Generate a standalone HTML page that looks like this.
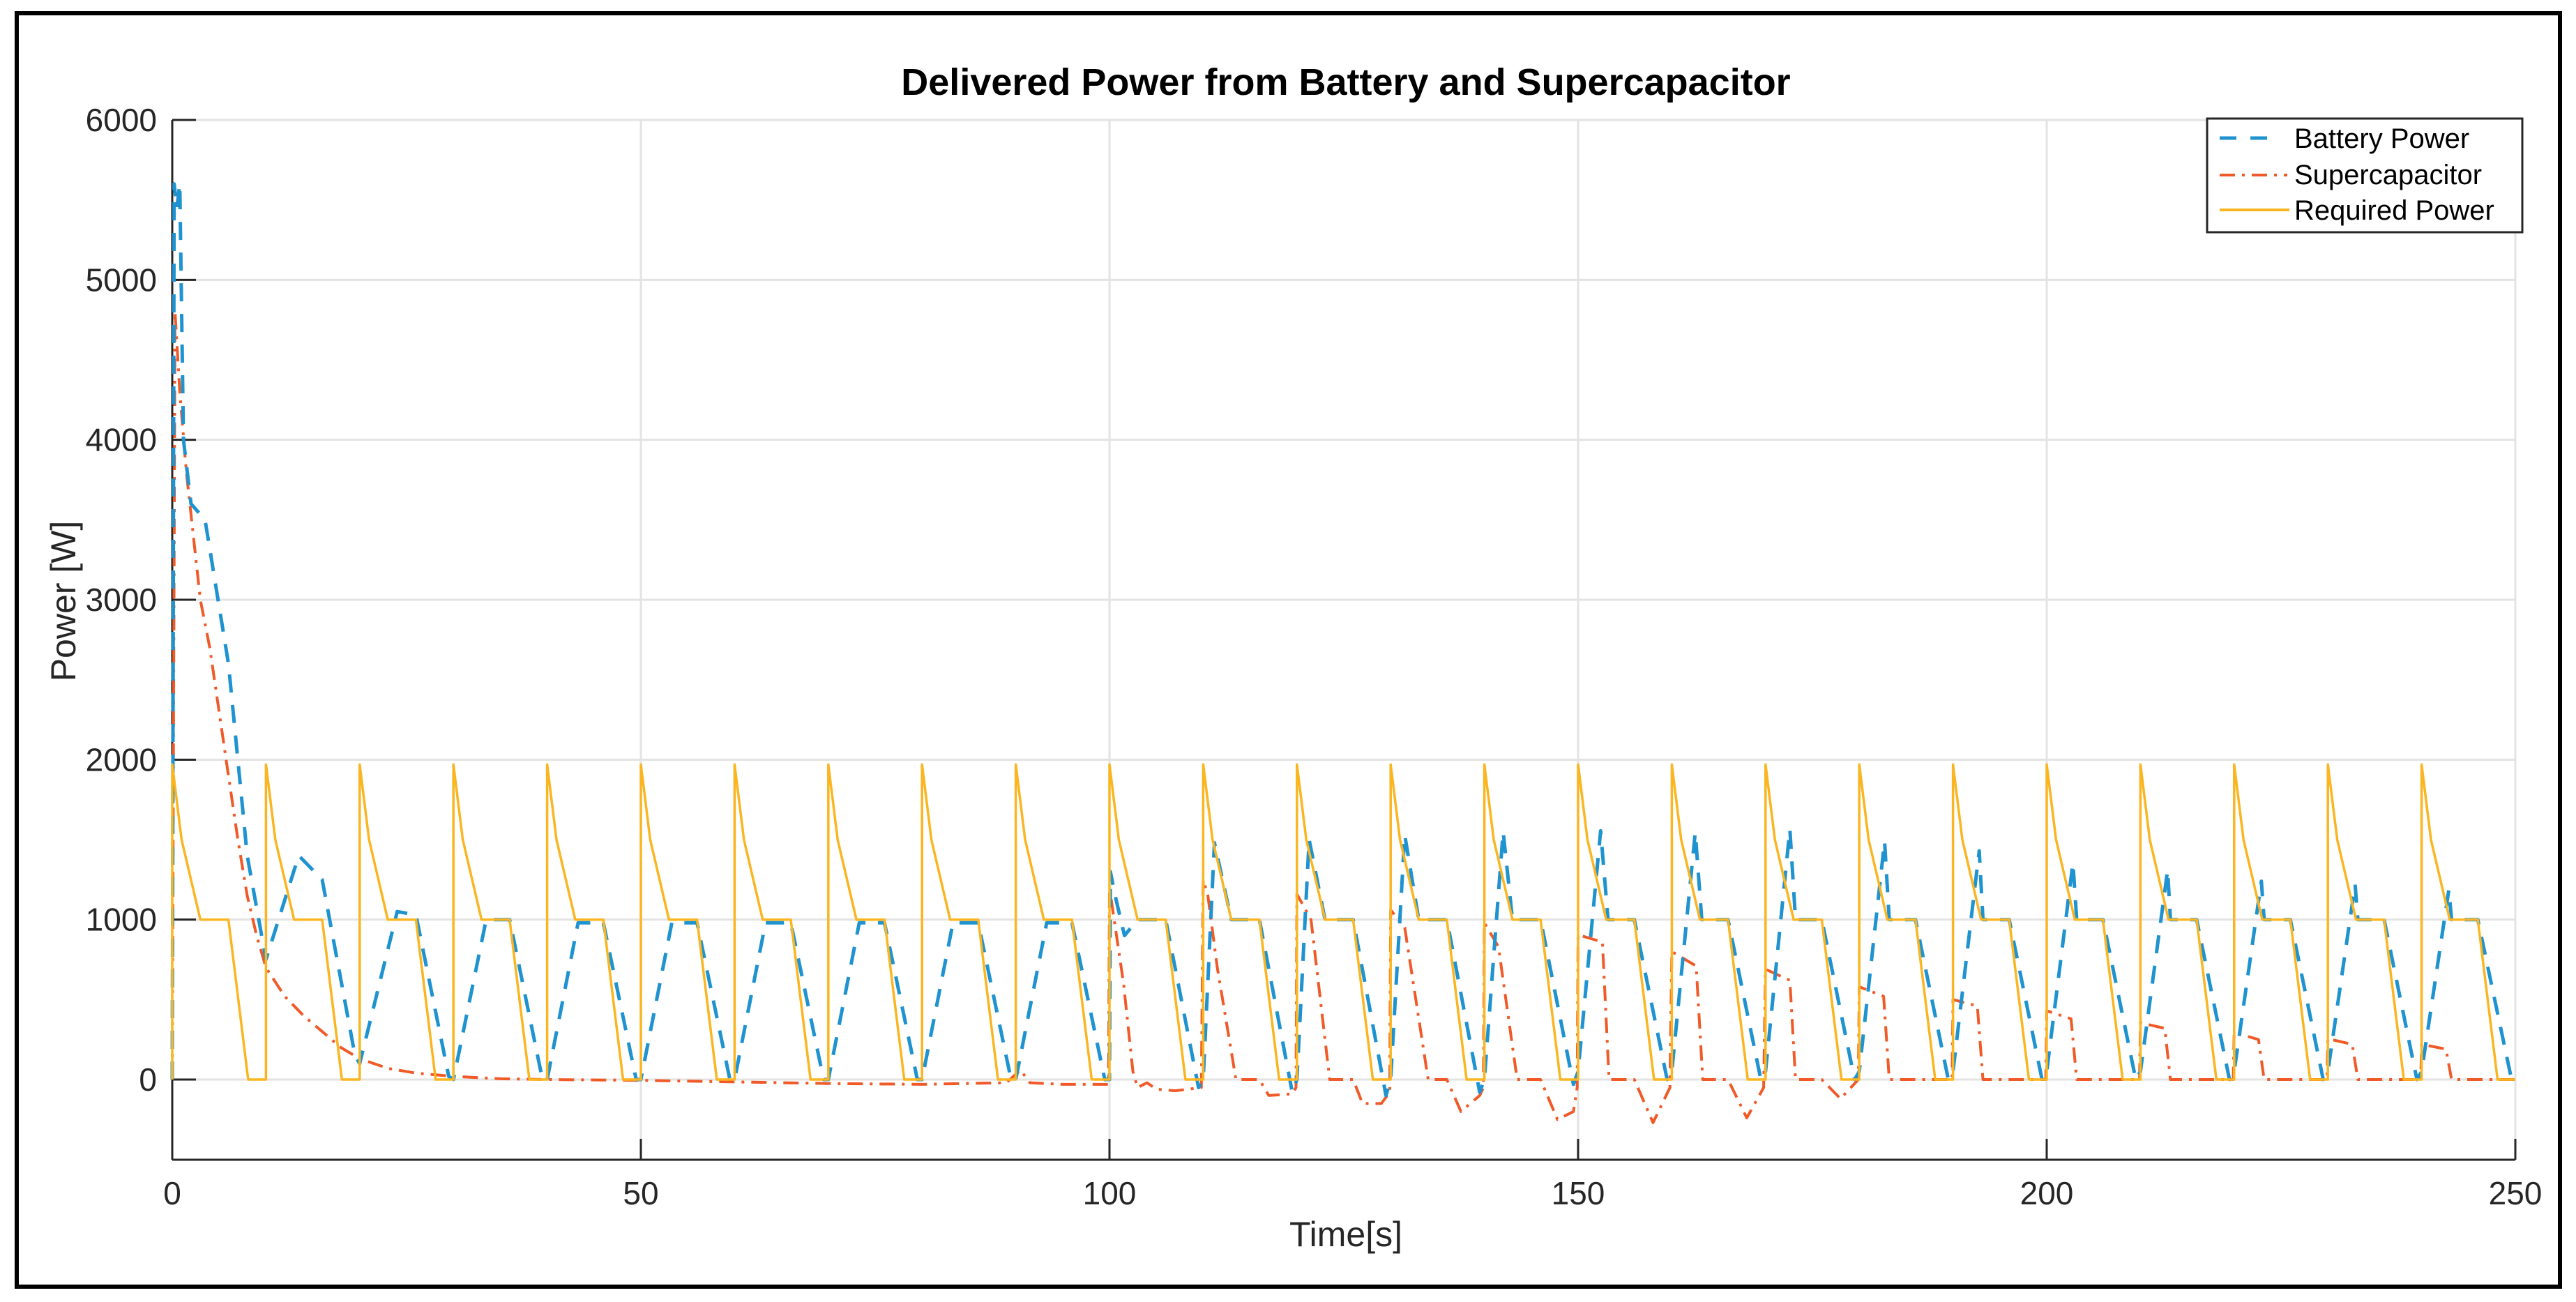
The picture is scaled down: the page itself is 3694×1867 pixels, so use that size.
<!DOCTYPE html>
<html><head><meta charset="utf-8"><style>
html,body{margin:0;padding:0;background:#fff;}
svg{display:block;font-family:"Liberation Sans",Arial,sans-serif;}
</style></head><body>
<svg id="chart" width="3694" height="1867" viewBox="0 0 3694 1867">
<rect x="0" y="0" width="3694" height="1867" fill="#fff"/>
<rect x="24" y="19" width="3647" height="1826" fill="none" stroke="#000" stroke-width="6"/>
<g id="grid"></g>
<g id="axes"></g>
<g id="series"></g>
<text x="1930" y="136" text-anchor="middle" font-size="54" font-weight="bold" fill="#000">Delivered Power from Battery and Supercapacitor</text>
<text x="1930" y="1787" text-anchor="middle" font-size="50" fill="#262626">Time[s]</text>
<text x="0" y="0" transform="translate(108,862) rotate(-90)" text-anchor="middle" font-size="50" fill="#262626">Power [W]</text>
<g>
<rect x="3165" y="170" width="452" height="163" fill="#fff" stroke="#262626" stroke-width="3"/>
<line x1="3183" y1="198" x2="3270" y2="198" stroke="#1f93d0" stroke-width="5" stroke-dasharray="24,20"/>
<text x="3290" y="212" font-size="40" fill="#000">Battery Power</text>
<line x1="3183" y1="251" x2="3280" y2="251" stroke="#f05a28" stroke-width="4" stroke-dasharray="22,10,4,10"/>
<text x="3290" y="264" font-size="40" fill="#000">Supercapacitor</text>
<line x1="3183" y1="301" x2="3283" y2="301" stroke="#fbb520" stroke-width="4"/>
<text x="3290" y="315" font-size="40" fill="#000">Required Power</text>
</g>
</svg>
<script>
const xTicks=[0,50,100,150,200,250];
const yTicks=[0,1000,2000,3000,4000,5000,6000];
const cycleStarts=[0,10,20,30,40,50,60,70,80,90,100,110,120,130,140,150,160,170,180,190,200,210,220,230,240];
const reqPeak=[1970,1970,1970,1970,1970,1970,1970,1970,1970,1970,1970,1970,1970,1970,1970,1970,1970,1970,1970,1970,1970,1970,1970,1970,1970];
const reqMid=[1500,1500,1500,1500,1500,1500,1500,1500,1500,1500,1500,1500,1500,1500,1500,1500,1500,1500,1500,1500,1500,1500,1500,1500,1500];
const reqPlateau=[1000,1000,1000,1000,1000,1000,1000,1000,1000,1000,1000,1000,1000,1000,1000,1000,1000,1000,1000,1000,1000,1000,1000,1000,1000];
const batteryT=[0,0.2,0.5,0.8,1.2,2,3.5,6,8,10,13.5,16,19.5,20,24,26,29.5,30,33.5,36,39.5,40,43.3,46,49.5,50,53.3,56,59.5,60,63.3,66,69.5,70,73.3,76,79.5,80,83.3,86,89.5,90,93.3,96,99.5,100,100.1,100.6,101.6,103,106,109.5,110,111.2,113,116,119.5,120,121.3,123,126,129.5,130,131.5,133,136,139.5,140,142,143,146,149.5,150,152.4,153.2,156,159.5,160,162.5,163.2,166,169.5,170,172.6,173.2,176,179.5,180,182.7,183.2,186,189.5,190,192.8,193.2,196,199.5,200,202.8,203.2,206,209.5,210,212.9,213.2,216,219.5,220,222.9,223.2,226,229.5,230,232.9,233.2,236,239.5,240,242.9,243.2,246,249.6,250];
const batteryP=[0,5600,5450,5600,4000,3600,3500,2600,1400,750,1400,1250,150,100,1050,1030,20,0,1000,1000,0,0,980,980,0,0,980,980,0,0,980,980,0,0,980,980,0,0,980,980,0,0,980,980,0,0,1300,1150,900,1000,1000,-50,0,1480,1000,1000,-80,0,1500,1000,1000,-100,0,1530,1000,1000,-80,0,1550,1000,1000,-30,50,1555,1000,1000,0,50,1545,1000,1000,0,50,1565,1000,1000,0,50,1490,1000,1000,0,50,1430,1000,1000,0,50,1355,1000,1000,0,50,1310,1000,1000,0,50,1240,1000,1000,0,50,1220,1000,1000,0,50,1185,1000,1000,0,0];
const capT=[0,0.3,0.8,1.5,3,4,5,6,7,8,9,10,12,14,16,18,20,23,26,30,35,40,50,60,70,80,89,90.5,91.5,95,99.9,
 100,100.5,101.5,102.5,103,104,105,107,109.8,
 110,110.5,111.5,113.5,116,117,119.5,119.9,
 120,121.5,123.5,126,127,129,129.9,
 130,131.5,134,136,137.5,139.5,139.9,
 140,141.5,143.5,146,147.8,149.5,149.9,
 150,152.6,153.3,156,158,159.8,
 160,162.6,163.3,166,168,169.8,
 170,172.6,173.2,176,178,179.9,
 180,182.6,183.2,189.9,
 190,192.6,193.2,199.9,
 200,202.6,203.2,209.9,
 210,212.6,213.2,219.9,
 220,222.6,223.2,229.9,
 230,232.6,233.2,239.9,
 240,242.6,243.2,250];
const capP=[0,4800,4300,3800,3000,2700,2300,1900,1500,1150,900,700,520,400,300,200,130,70,40,20,5,0,-5,-15,-25,-30,-20,60,-20,-30,-30,
 1200,1000,600,50,-50,-20,-60,-70,-50,
 1250,1150,700,0,0,-100,-90,-50,
 1160,1000,0,0,-150,-150,-80,
 1060,950,0,0,-200,-100,-50,
 980,830,0,0,-250,-200,-50,
 905,860,0,0,-270,-50,
 800,710,0,0,-240,-50,
 690,620,0,0,-120,0,
 580,520,0,0,
 500,460,0,0,
 430,380,0,0,
 355,320,0,0,
 295,250,0,0,
 255,220,0,0,
 220,190,0,0];

const X0=247,X1=3607,Y0=1548,YTOP=172,YBOT=1663;
function sx(t){return X0+t*(X1-X0)/250;}
function sy(v){return Y0-v*(Y0-YTOP)/6000;}
const NS="http://www.w3.org/2000/svg";
function mk(tag,attrs,parent){const e=document.createElementNS(NS,tag);for(const k in attrs)e.setAttribute(k,attrs[k]);parent.appendChild(e);return e;}
const grid=document.getElementById('grid'),axes=document.getElementById('axes'),series=document.getElementById('series');
yTicks.forEach(v=>{
  const g=mk('line',{x1:X0,x2:X1,y1:sy(v),y2:sy(v),stroke:'#e3e3e3','stroke-width':3},grid);
  
  
  const tk=mk('line',{x1:X0,x2:X0+34,y1:sy(v),y2:sy(v),stroke:'#262626','stroke-width':3},axes);
  
  
  const tl=mk('text',{x:X0-22,y:sy(v)+16,'text-anchor':'end','font-size':46,fill:'#262626'},axes);
  tl.textContent=v;
  
  
});
xTicks.forEach(t=>{
  const g=mk('line',{x1:sx(t),x2:sx(t),y1:YTOP,y2:YBOT,stroke:'#e3e3e3','stroke-width':3},grid);
  
  
  const tk=mk('line',{x1:sx(t),x2:sx(t),y1:YBOT,y2:YBOT-30,stroke:'#262626','stroke-width':3},axes);
  
  
  const tl=mk('text',{x:sx(t),y:YBOT+64,'text-anchor':'middle','font-size':46,fill:'#262626'},axes);
  tl.textContent=t;
  
  
});
const ya=mk('line',{x1:X0,x2:X0,y1:YTOP,y2:YBOT,stroke:'#262626','stroke-width':3},axes);


const xa=mk('line',{x1:X0,x2:X1,y1:YBOT,y2:YBOT,stroke:'#262626','stroke-width':3},axes);



let req=[];
cycleStarts.forEach((c,i)=>{
  req.push([c,0],[c,reqPeak[i]],[c+1,reqMid[i]],[c+3,reqPlateau[i]],[c+6,reqPlateau[i]],[c+8.1,0]);
});
req.push([250,0]);
function pathFrom(pts){return pts.map((p,i)=>(i?'L':'M')+sx(p[0]).toFixed(1)+','+sy(p[1]).toFixed(1)).join(' ');}
const bat=batteryT.map((t,i)=>[t,batteryP[i]]);
const cap=capT.map((t,i)=>[t,capP[i]]);
const pc=mk('path',{d:pathFrom(cap),fill:'none',stroke:'#f05a28','stroke-width':4,'stroke-dasharray':'22,10,4,10','stroke-linejoin':'round'},series);


const pb=mk('path',{d:pathFrom(bat),fill:'none',stroke:'#1f93d0','stroke-width':5,'stroke-dasharray':'26,18','stroke-linejoin':'round'},series);


const pr=mk('path',{d:pathFrom(req),fill:'none',stroke:'#fbb520','stroke-width':3.5,'stroke-linejoin':'round'},series);


</script>
</body></html>
